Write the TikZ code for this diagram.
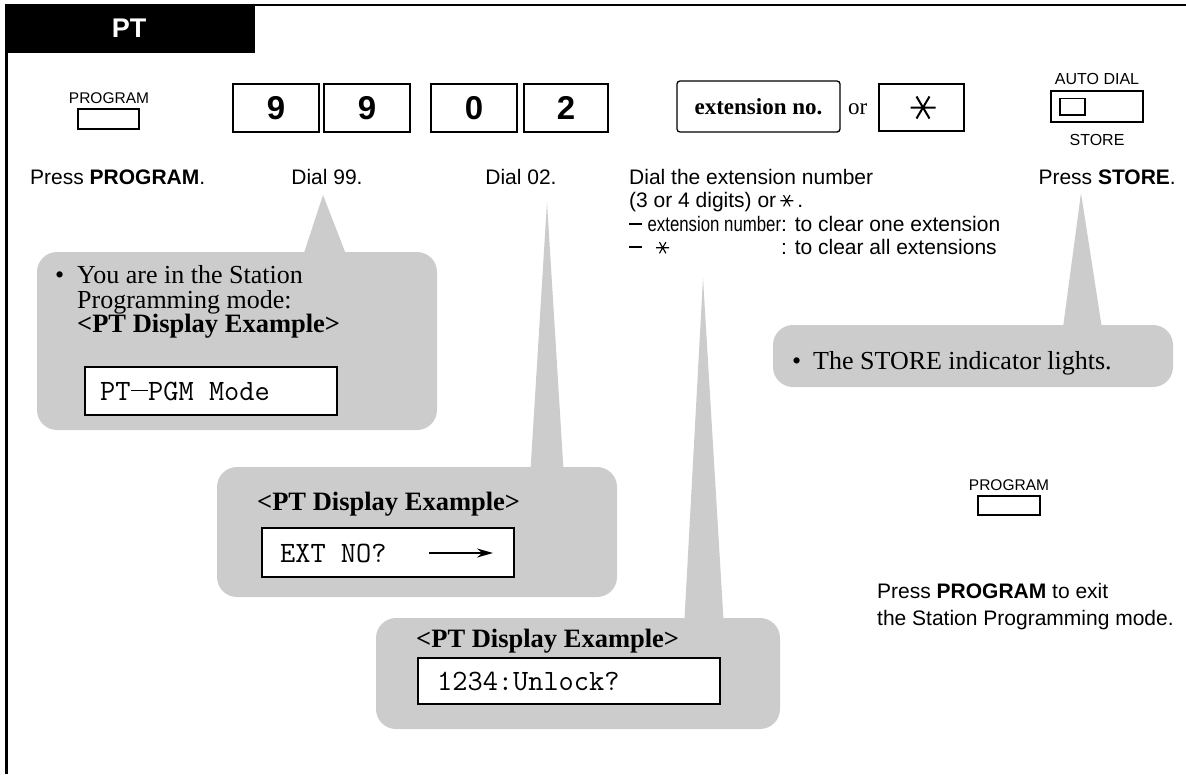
\documentclass[tikz,border=0pt]{standalone}
\usepackage{fontspec}
\setmainfont{Liberation Serif}
\setsansfont{Liberation Sans}
\newfontfamily\narrowsf[FakeStretch=0.80]{Liberation Sans}
\usetikzlibrary{arrows.meta}
\definecolor{cgray}{HTML}{CCCCCC}
\newlength\extw
\newcommand\sixstar[2]{\tikz[x=1pt,y=1pt,baseline={(0pt,-0.3em)},line width=#2]{\draw ({-#1},0) -- (#1,0) ({-0.5*#1},{-0.866*#1}) -- ({0.5*#1},{0.866*#1}) ({-0.5*#1},{0.866*#1}) -- ({0.5*#1},{-0.866*#1});}}
\newcommand\dashbar{\rule[0.3em]{0.6em}{1.6pt}}
\newcommand\monodash{\makebox[0.5985em]{\rule[0.3em]{0.56em}{1pt}}}
\begin{document}
\begin{tikzpicture}[x=1pt,y=-1pt,
  body/.style={font=\fontsize{21}{23}\selectfont\sffamily, inner sep=0pt},
  small/.style={font=\fontsize{15.5}{17}\selectfont\sffamily, inner sep=0pt},
  calltext/.style={font=\fontsize{26}{25}\selectfont, inner sep=0pt, anchor=base west},
  callhead/.style={font=\fontsize{26.5}{28}\selectfont\bfseries, inner sep=0pt, anchor=base west},
  mono/.style={font=\fontsize{29.5}{31}\selectfont\ttfamily\addfontfeature{FakeStretch=1.14}, inner sep=0pt, anchor=base west},
  callout/.style={fill=cgray, rounded corners=20pt, inner sep=0pt},
  pointer/.style={fill=cgray},
  keybox/.style={draw, line width=2pt, inner sep=0pt, minimum height=48,
                 font=\fontsize{33}{35}\selectfont\sffamily\bfseries},
  dispbox/.style={draw, line width=1.2pt, fill=white, inner sep=0pt},
  btn/.style={draw, line width=1.8pt, inner sep=0pt},
  frame/.style={line width=2.5pt}
]
\useasboundingbox (0,0) rectangle (1186,774);

% ---- frame and header ----
\coordinate (frTR) at (1186,5);
\coordinate (frTL) at (6.25,5);
\coordinate (frBL) at (6.25,774);
\draw[frame] (frTR) -- (frTL) -- (frBL);
\node[fill=black, minimum width=250, minimum height=48, inner sep=0pt, anchor=north west] (hdr) at (5,5) {};
\node[font=\fontsize{27}{29}\selectfont\sffamily\bfseries, text=white, inner sep=0pt, anchor=base] (hdrtxt) at (129,37) {PT};

% ---- callouts (grey) ----
\node[callout, minimum width=400, minimum height=178] (c1) at (237,341) {};
\coordinate (c1tip) at (323,195);
\fill[pointer] (c1tip) -- (301,262) -- (349,262) -- cycle;

\node[callout, minimum width=400, minimum height=130] (c2) at (417,532) {};
\coordinate (c2tip) at (547,202);
\fill[pointer] (c2tip) -- (530,478) -- (564,478) -- cycle;

\node[callout, minimum width=404, minimum height=111] (c3) at (578,673.5) {};
\coordinate (c3tip) at (703,278);
\fill[pointer] (c3tip) -- (684,628) -- (724,628) -- cycle;

\node[callout, minimum width=400, minimum height=62] (c4) at (973,356) {};
\coordinate (c4tip) at (1081,193);
\fill[pointer] (c4tip) -- (1062,335) -- (1103,335) -- cycle;

% ---- top row of keys ----
\node[small, anchor=base] (prog1lbl) at (109,103) {PROGRAM};
\node[btn, minimum width=61, minimum height=20] (prog1) at (108.5,119) {};

\node[keybox, minimum width=86] (k1) at (276,108) {9};
\node[keybox, minimum width=86] (k2) at (367,108) {9};
\node[keybox, minimum width=86] (k3) at (474,108) {0};
\node[keybox, minimum width=84] (k4) at (566,108) {2};

\node[draw, line width=1.3pt, rounded corners=3pt, inner sep=0pt, minimum width=163, minimum height=51,
      font=\fontsize{23}{25}\selectfont\bfseries] (ext) at (758.5,106.5) {extension no.};
\node[font=\fontsize{23}{25}\selectfont, inner sep=0pt, anchor=base west] (or) at (848,114) {or};
\node[draw, line width=2pt, inner sep=0pt, minimum width=85, minimum height=47] (stk) at (921.5,107.5) {};
\coordinate (stc) at (923,107.5);
\draw[line width=2pt] ([xshift=-12.5pt]stc) -- ([xshift=12.5pt]stc)
  ([xshift=-6.5pt,yshift=-11pt]stc) -- ([xshift=6.5pt,yshift=11pt]stc)
  ([xshift=-6.5pt,yshift=11pt]stc) -- ([xshift=6.5pt,yshift=-11pt]stc);

\node[small, anchor=base, font=\fontsize{16}{18}\selectfont\sffamily] (adlbl) at (1097,84) {AUTO DIAL};
\node[draw, line width=2pt, inner sep=0pt, minimum width=92, minimum height=31] (ad) at (1097,106.5) {};
\node[draw, line width=1.5pt, inner sep=0pt, minimum width=25, minimum height=16.5] (adin) at (1072.5,106.5) {};
\node[small, anchor=base, font=\fontsize{16}{18}\selectfont\sffamily] (stlbl) at (1097,145) {STORE};

% ---- instruction row ----
\node[body, anchor=base west] (t1) at (30,184) {Press \textbf{PROGRAM}.};
\node[body, anchor=base] (t2) at (327,184) {Dial 99.};
\node[body, anchor=base] (t3) at (521,184) {Dial 02.};
\node[body, anchor=base west] (e1) at (629,184) {Dial the extension number};
\node[body, anchor=base west] (e2) at (629,207) {(3 or 4 digits) or\,\sixstar{6.5}{1.1pt}\,.};
\node[body, anchor=base west] (e3) at (629,231) {\dashbar\ {\narrowsf extension number}: to clear one extension};
\node[body, anchor=base west] (e4) at (629,254) {\settowidth{\extw}{\narrowsf extension number}\dashbar\ \makebox[\extw][l]{\hspace{8pt}\sixstar{6.5}{1.1pt}}: to clear all extensions};
\node[body, anchor=base east] (t5) at (1176,184) {Press \textbf{STORE}.};

% ---- callout 1 contents ----
\node[calltext] (c1b) at (55,283) {\textbullet};
\node[calltext] (c1l1) at (77,283) {You are in the Station};
\node[calltext] (c1l2) at (77,308) {Programming mode:};
\node[callhead] (c1h) at (77,332) {<PT Display Example>};
\node[dispbox, minimum width=252, minimum height=48] (d1) at (211,391) {};
\node[mono] (d1t) at (100,400) {PT\monodash PGM Mode};

% ---- callout 2 contents ----
\node[callhead] (c2h) at (257,510) {<PT Display Example>};
\node[dispbox, minimum width=252, minimum height=49] (d2) at (388,552.5) {};
\node[mono] (d2t) at (280,562) {EXT NO?};
\coordinate (a1) at (429,553);
\coordinate (a2) at (493,553);
\draw[line width=2pt, -{Stealth[length=16pt,width=9pt]}] (a1) -- (a2);

% ---- callout 3 contents ----
\node[callhead] (c3h) at (416,647) {<PT Display Example>};
\node[dispbox, minimum width=302, minimum height=46] (d3) at (569,681) {};
\node[mono] (d3t) at (437,690) {1234:Unlock?};

% ---- callout 4 contents ----
\node[calltext] (c4b) at (792,369) {\textbullet};
\node[calltext] (c4t) at (813,369) {The STORE indicator lights.};

% ---- exit ----
\node[small, anchor=base] (prog2lbl) at (1009,490) {PROGRAM};
\node[btn, minimum width=62, minimum height=19] (prog2) at (1009,505.5) {};
\node[body, anchor=base west] (x1) at (877,598) {Press \textbf{PROGRAM} to exit};
\node[body, anchor=base west] (x2) at (877,625) {the Station Programming mode.};
\end{tikzpicture}
\end{document}
